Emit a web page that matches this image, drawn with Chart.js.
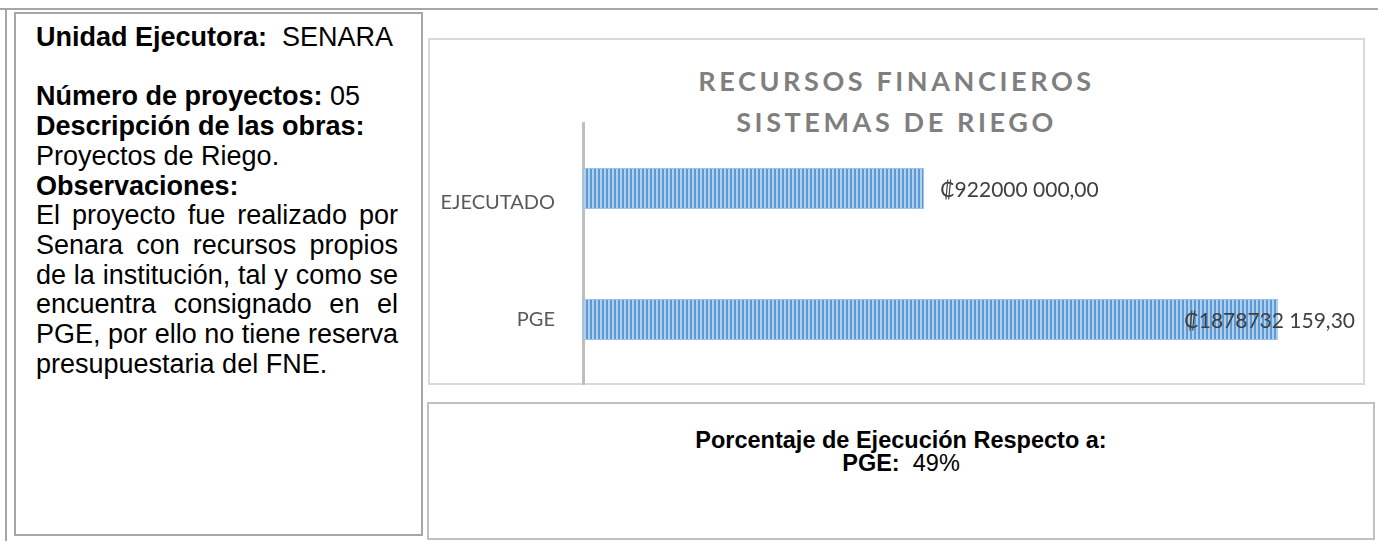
<!DOCTYPE html>
<html>
<head>
<meta charset="utf-8">
<script src="https://cdn.jsdelivr.net/npm/chart.js@4.4.1/dist/chart.umd.min.js"></script>
<style>
html,body{margin:0;padding:0;background:#fff;}
body{width:1378px;height:541px;position:relative;overflow:hidden;font-family:"Liberation Sans",Arial,sans-serif;color:#000;}
.ln{position:absolute;background:#a6a6a6;}
#panel{position:absolute;left:14px;top:12px;width:409px;height:524px;border:2px solid #a6a6a6;box-sizing:border-box;padding:9px 23px 0 20px;font-size:27px;line-height:29.7px;}
#panel div{white-space:nowrap;}
#panel .j{text-align:justify;text-align-last:justify;white-space:normal;}
#chartBox{position:absolute;left:428px;top:38px;width:937px;height:347px;border:2px solid #d9d9d9;box-sizing:border-box;}
#title{position:absolute;left:0;right:0;top:20px;text-align:center;font:bold 27px Lato,"Open Sans",sans-serif;letter-spacing:3.6px;color:#7f7f7f;line-height:41px;}
#chart{position:absolute;left:430px;top:40px;}
#pct{position:absolute;left:427px;top:402px;width:948px;height:138px;border:2px solid #c0c0c0;box-sizing:border-box;text-align:center;font-size:23.5px;line-height:23px;padding-top:25px;}
</style>
</head>
<body>
<div class="ln" style="left:0;top:8px;width:1378px;height:2px"></div>
<div class="ln" style="left:5px;top:8px;width:2px;height:533px"></div>

<div id="panel">
  <div><b>Unidad Ejecutora:</b>&nbsp; SENARA</div>
  <div>&nbsp;</div>
  <div><b>Número de proyectos:</b> 05</div>
  <div><b>Descripción de las obras:</b></div>
  <div>Proyectos de Riego.</div>
  <div><b>Observaciones:</b></div>
  <div class="j">El proyecto fue realizado por</div>
  <div class="j">Senara con recursos propios</div>
  <div class="j">de la institución, tal y como se</div>
  <div class="j">encuentra consignado en el</div>
  <div class="j">PGE, por ello no tiene reserva</div>
  <div>presupuestaria del FNE.</div>
</div>

<div id="chartBox">
  <div id="title">RECURSOS FINANCIEROS<br>SISTEMAS DE RIEGO</div>
</div>
<canvas id="chart" width="933" height="345"></canvas>

<div id="pct"><b>Porcentaje de Ejecución Respecto a:</b><br><b>PGE:</b>&nbsp; 49%</div>

<script>
// datos
const categories=['EJECUTADO','PGE'];
const montos=[922000000.00, 1878732159.30];
const xMax=2000000000;

const pad3=n=>String(n).padStart(3,'0');
function fmtColones(v){
  const c=Math.round(v*100);
  const ent=Math.floor(c/100), cents=c%100;
  return `₡${Math.floor(ent/1000)} ${pad3(ent%1000)},${String(cents).padStart(2,'0')}`;
}

// relleno rayado vertical
const pc=document.createElement('canvas'); pc.width=4; pc.height=1;
const pctx=pc.getContext('2d');
pctx.fillStyle='#5b9bd5'; pctx.fillRect(0,0,2,1);
pctx.fillStyle='#b3cfee'; pctx.fillRect(2,0,2,1);

const canvas=document.getElementById('chart');
const stripes=canvas.getContext('2d').createPattern(pc,'repeat');

// etiquetas de valor (fuera del extremo, sin salir del area)
const barLabels={
  id:'barLabels',
  afterDatasetsDraw(chart){
    const {ctx}=chart, meta=chart.getDatasetMeta(0);
    ctx.save();
    ctx.font='21px Lato, "DejaVu Sans", sans-serif';
    ctx.fillStyle='#404040'; ctx.textBaseline='middle'; ctx.textAlign='left';
    meta.data.forEach((bar,i)=>{
      const t=fmtColones(montos[i]);
      const w=ctx.measureText(t).width;
      let x=bar.x+16;
      const lim=chart.width-8;
      if(x+w>lim) x=lim-w;
      ctx.fillText(t,x,bar.y+2);
    });
    ctx.restore();
  }
};

new Chart(canvas,{
  type:'bar',
  data:{labels:categories,datasets:[{
    data:montos,
    backgroundColor:stripes,
    borderColor:'#9dc3e6',
    borderWidth:1,
    borderSkipped:false,
    barPercentage:0.313,
    categoryPercentage:1
  }]},
  options:{
    indexAxis:'y',
    responsive:false, animation:false,
    layout:{padding:{top:83,right:40,left:0,bottom:0}},
    plugins:{legend:{display:false},tooltip:{enabled:false},title:{display:false}},
    scales:{
      x:{display:false,min:0,max:xMax},
      y:{
        grid:{display:false},
        border:{display:true,color:'#bfbfbf',width:3},
        ticks:{
          color:'#595959',font:{family:'Lato',size:20,lineHeight:'28px'},padding:20,
          // en el original la etiqueta EJECUTADO queda un poco más abajo
          callback:(v,i)=> i===0 ? ['',categories[i]] : categories[i]
        },
        afterFit:s=>{s.width=153; s.paddingTop=0; s.paddingBottom=0;}
      }
    }
  },
  plugins:[barLabels]
});
</script>
</body>
</html>
